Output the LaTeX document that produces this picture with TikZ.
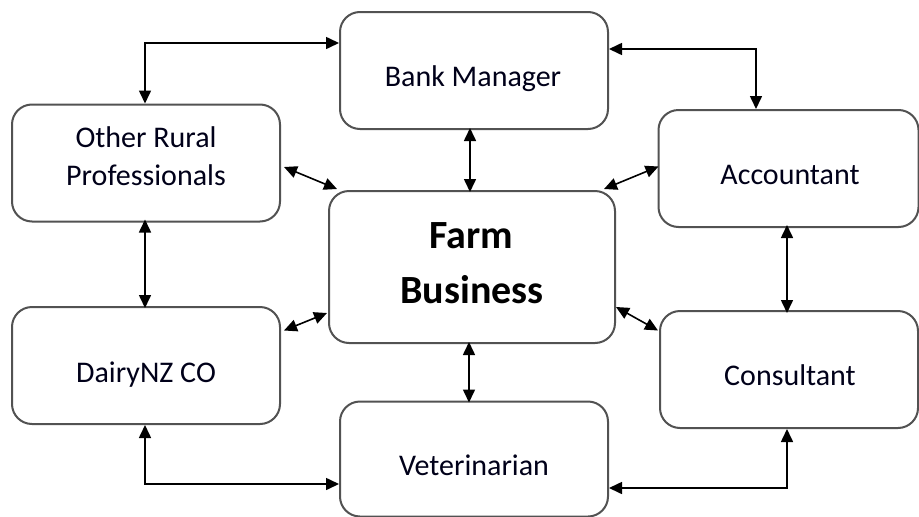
\documentclass[tikz,border=0pt]{standalone}
\usepackage{fontspec}
\setmainfont{Carlito}
\usetikzlibrary{arrows.meta,calc}
\begin{document}
\begin{tikzpicture}[x=1pt,y=-1pt,
  party/.style={draw=black!68, line width=2pt, rounded corners=20pt, fill=white,
    minimum width=#1, inner sep=0pt},
  label/.style={anchor=base, font=\fontsize{30}{30}\selectfont, text=black!90!blue, inner sep=0pt},
  link/.style={line width=1.6pt, {Triangle[length=13pt,width=12pt]}-{Triangle[length=13pt,width=12pt]}}]
  \useasboundingbox (0,0) rectangle (919,517);

  % boxes
  \node[party=268pt, minimum height=117pt] (bank) at (474,70.5) {};
  \node[party=268pt, minimum height=117pt] (other) at (146,163) {};
  \node[party=286pt, minimum height=152pt] (farm) at (472,267) {};
  \node[party=260pt, minimum height=117pt] (acct) at (788.5,168.5) {};
  \node[party=268pt, minimum height=117pt] (dairy) at (146,365.5) {};
  \node[party=268pt, minimum height=115pt] (vet) at (474,459) {};
  \node[party=258pt, minimum height=117pt] (cons) at (789,369.5) {};

  % labels
  \node[label] (tbank) at (473,86) {Bank Manager};
  \node[label] (tother1) at (146,147) {Other Rural};
  \node[label] (tother2) at (146,185) {Professionals};
  \node[label] (tacct) at (790,184) {Accountant};
  \node[label] (tdairy) at (146,382) {DairyNZ CO};
  \node[label] (tvet) at (474,475) {Veterinarian};
  \node[label] (tcons) at (790,385) {Consultant};
  \node[anchor=base, font=\bfseries\fontsize{40}{40}\selectfont, inner sep=0pt] (tfarm1) at (471,248) {Farm};
  \node[anchor=base, font=\bfseries\fontsize{40}{40}\selectfont, inner sep=0pt] (tfarm2) at (472,303) {Business};

  % routing corners
  \coordinate (nw) at (145,43);
  \coordinate (ne) at (756,49);
  \coordinate (sw) at (145,484);
  \coordinate (se) at (787,488);
  \coordinate (vmid) at (470,0);
  \coordinate (vmid2) at (469,0);
  \coordinate (lcol) at (145,0);
  \coordinate (rcol) at (787,0);

  % elbow connectors
  \draw[link] (bank.west |- nw) -- (nw) -- (other.north -| nw);
  \draw[link] (bank.east |- ne) -- (ne) -- (acct.north -| ne);
  \draw[link] (dairy.south -| sw) -- (sw) -- (vet.west |- sw);
  \draw[link] (vet.east |- se) -- (se) -- (cons.south -| se);

  % vertical connectors
  \draw[link] ([yshift=2]bank.south -| vmid) -- ([yshift=-2]farm.north -| vmid);
  \draw[link] ([yshift=2]farm.south -| vmid2) -- ([yshift=-2]vet.north -| vmid2);
  \draw[link] ([yshift=3]other.south -| lcol) -- ([yshift=-2]dairy.north -| lcol);
  \draw[link] ([yshift=3]acct.south -| rcol) -- ([yshift=-3]cons.north -| rcol);

  % diagonal connectors to the centre
  \draw[link] ($(other.east)+(3,4)$) -- ($(farm.north west)+(9,-1)$);
  \draw[link] ($(farm.north east)+(-12,-1)$) -- ($(acct.west)+(1,-2)$);
  \draw[link] ($(dairy.east)+(3,-35)$) -- ($(farm.south west)+(-1,-31)$);
  \draw[link] ($(farm.east)+(0,40)$) -- ($(cons.west)+(-1,-39)$);
\end{tikzpicture}
\end{document}
